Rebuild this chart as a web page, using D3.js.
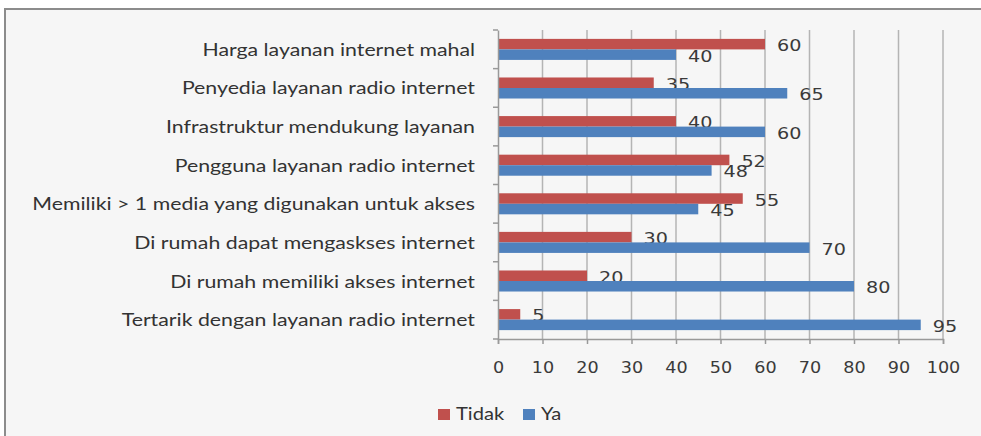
<!DOCTYPE html>
<html><head><meta charset="utf-8">
<script src="https://cdn.jsdelivr.net/npm/d3@7"></script>
<style>html,body{margin:0;padding:0;background:#fff;}svg{display:block;}</style>
</head><body>
<script>
const categories = [
  "Harga layanan internet  mahal",
  "Penyedia layanan radio internet",
  "Infrastruktur mendukung layanan",
  "Pengguna layanan radio internet",
  "Memiliki > 1 media yang digunakan untuk akses",
  "Di rumah dapat mengaskses internet",
  "Di rumah memiliki akses internet",
  "Tertarik dengan layanan radio internet"
];
const seriesNames = ["Tidak", "Ya"];
const tidakValues = [60, 35, 40, 52, 55, 30, 20, 5];
const yaValues = [40, 65, 60, 48, 45, 70, 80, 95];
const xTicks = [0, 10, 20, 30, 40, 50, 60, 70, 80, 90, 100];
const colors = ["#c0504d", "#4f81bd"];

const W = 981, H = 436;
const svg = d3.select("body").append("svg").attr("width", W).attr("height", H);
svg.append("rect").attr("x", 5).attr("y", 9).attr("width", W + 10).attr("height", H + 10)
  .attr("fill", "#f6f6f6").attr("stroke", "#8c8c8c").attr("stroke-width", 2);

const pLeft = 498, pRight = 943, pTop = 30, pBottom = 339;
const x = d3.scaleLinear().domain([0, 100]).range([pLeft, pRight]);
const y = d3.scaleBand().domain(categories).range([pTop, pBottom]).paddingInner(0.455).paddingOuter(0.23);
const ys = d3.scaleBand().domain(seriesNames).range([0, y.bandwidth()]);

const labelFont = "Lato, 'Open Sans', sans-serif";
const numFont = "'DejaVu Sans', Verdana, sans-serif";
const SX = 1.22;

// gridlines
svg.append("g").selectAll("line").data(xTicks.slice(1)).join("line")
  .attr("x1", d => x(d)).attr("x2", d => x(d)).attr("y1", pTop).attr("y2", pBottom)
  .attr("stroke", "#b4b4b4").attr("stroke-width", 1.5);

// bars
const series = [tidakValues, yaValues];
series.forEach((vals, si) => {
  svg.append("g").selectAll("rect").data(vals).join("rect")
    .attr("x", x(0)).attr("y", (d, i) => y(categories[i]) + ys(seriesNames[si]))
    .attr("width", d => x(d) - x(0)).attr("height", ys.bandwidth())
    .attr("fill", colors[si]);
  svg.append("g").selectAll("text").data(vals).join("text")
    .attr("transform", (d, i) => `translate(${x(d) + 12},${y(categories[i]) + ys(seriesNames[si]) + ys.bandwidth() / 2 + 7}) scale(1.28,1)`)
    .attr("font-family", numFont).attr("font-size", 15).attr("fill", "#3a3a3a")
    .text(d => d);
});

// axes
const yAxis = svg.append("g").attr("transform", `translate(${pLeft},0)`)
  .call(d3.axisLeft(y).tickSize(0).tickFormat(""));
yAxis.select(".domain").attr("stroke", "#999").attr("stroke-width", 1.5);
const bounds = d3.range(categories.length + 1).map(i => pTop + i * (pBottom - pTop) / categories.length);
svg.append("g").selectAll("line").data(bounds).join("line")
  .attr("x1", pLeft - 5).attr("x2", pLeft).attr("y1", d => d).attr("y2", d => d)
  .attr("stroke", "#999").attr("stroke-width", 1.5);

const xAxis = svg.append("g").attr("transform", `translate(0,${pBottom})`)
  .call(d3.axisBottom(x).tickValues(xTicks).tickSize(5).tickPadding(0).tickFormat(d3.format("d")));
xAxis.select(".domain").attr("stroke", "#999").attr("stroke-width", 1.5);
xAxis.selectAll(".tick line").attr("stroke", "#999").attr("stroke-width", 1.5);
xAxis.selectAll(".tick text").attr("y", 0).attr("dy", 0)
  .attr("transform", `translate(0,34) scale(1.1,1)`)
  .attr("font-family", numFont).attr("font-size", 16).attr("fill", "#3a3a3a");

// category labels
svg.append("g").selectAll("text").data(categories).join("text")
  .attr("transform", d => `translate(475,${y(d) + y.bandwidth() / 2 + 6.5}) scale(1.29,1)`)
  .attr("text-anchor", "end").attr("font-family", labelFont).attr("font-size", 16.5)
  .attr("fill", "#333").text(d => d);

// legend
const legend = svg.append("g");
const legX = [438, 523];
seriesNames.forEach((s, i) => {
  legend.append("rect").attr("x", legX[i]).attr("y", 409).attr("width", 12).attr("height", 11).attr("fill", colors[i]);
  legend.append("text").attr("transform", `translate(${legX[i] + 18},420) scale(${SX},1)`)
    .attr("font-family", labelFont).attr("font-size", 16.5).attr("fill", "#333").text(s);
});
</script>
</body></html>
